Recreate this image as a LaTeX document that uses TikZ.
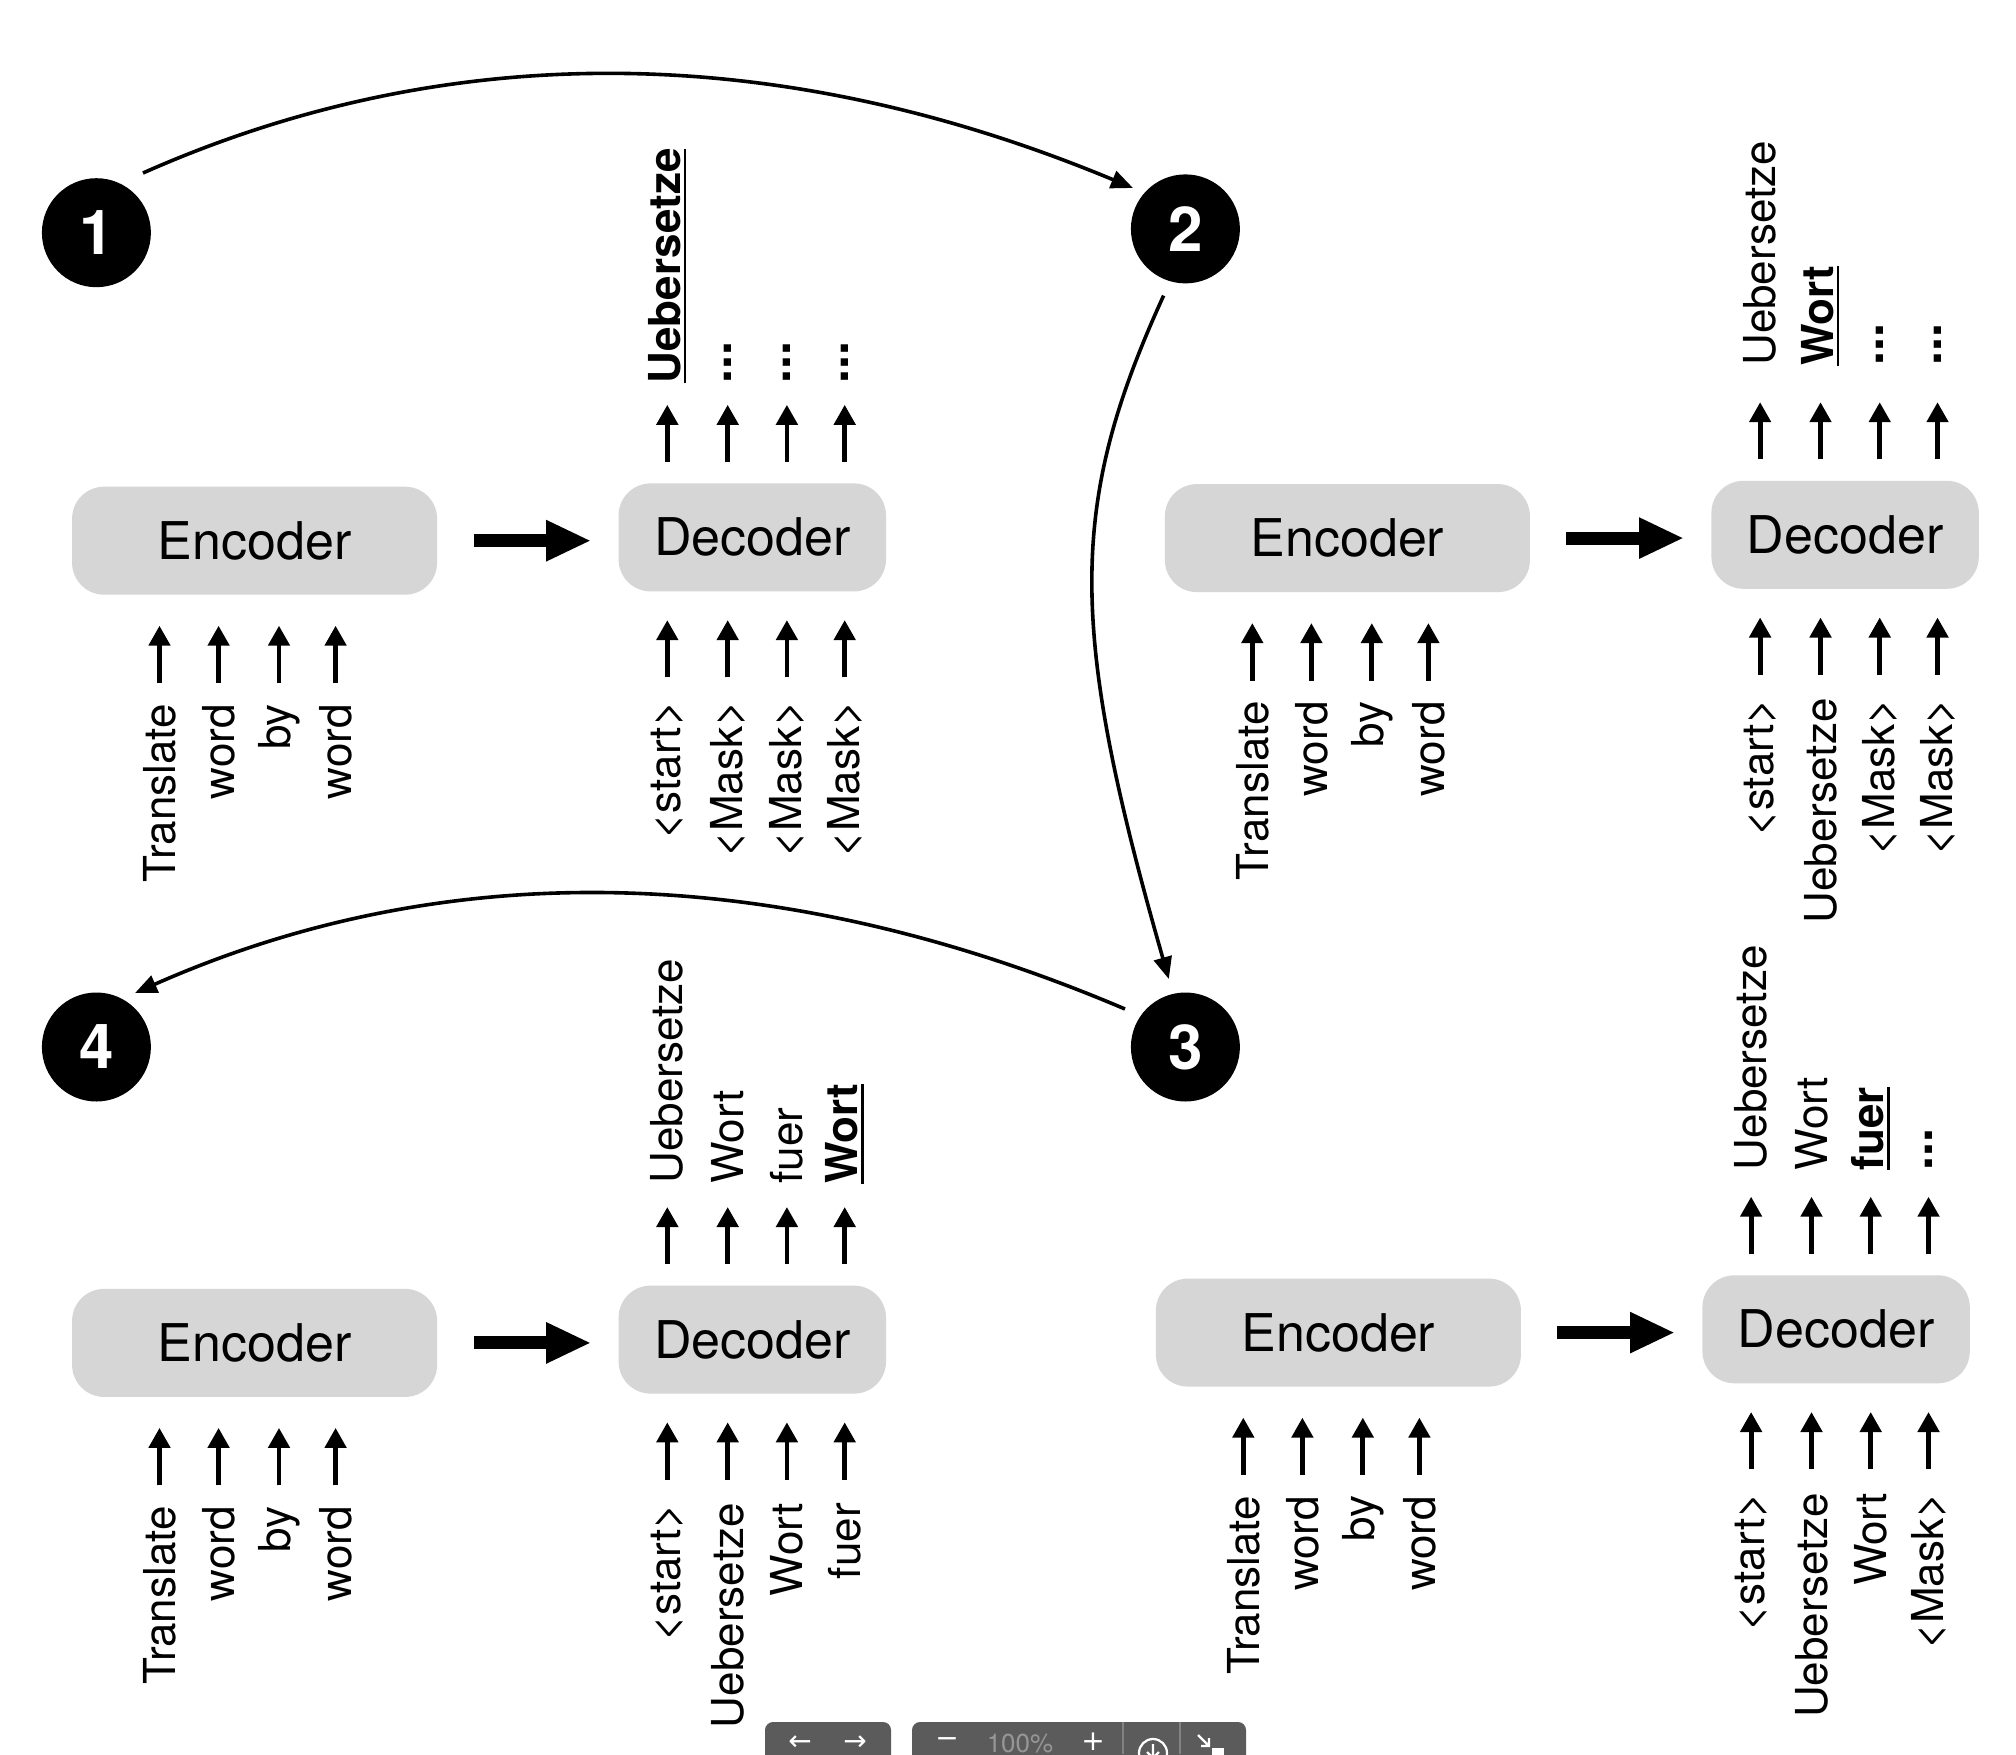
\documentclass[tikz,border=0pt]{standalone}
\usepackage{fontspec}
\setmainfont{TeX Gyre Heros}
\newfontfamily\symfont{DejaVu Sans}
\usetikzlibrary{arrows.meta,calc}

\definecolor{boxgray}{RGB}{214,214,214}
\definecolor{barGray}{RGB}{91,91,91}
\definecolor{barText}{RGB}{150,150,150}
\definecolor{barSep}{RGB}{130,130,130}

\newcommand{\threedots}{{\bfseries\fontsize{25}{28}\selectfont.{}.{}.}}
\newcommand{\uword}[1]{\setbox0\hbox{\textbf{#1}}\leavevmode\rlap{\rule[-2.8pt]{\wd0}{1.1pt}}\box0}

\tikzset{
  boxnode/.style={fill=boxgray, rounded corners=16pt, inner sep=0pt, font=\fontsize{26}{30}\selectfont},
  encbox/.style={boxnode, minimum width=182.5pt, minimum height=54pt},
  decbox/.style={boxnode, minimum width=133.7pt, minimum height=54pt},
  tok/.style={rotate=90, inner sep=0pt, font=\fontsize{22}{26}\selectfont},
  intok/.style={tok, anchor=east},
  outtok/.style={tok, anchor=west},
  smallarr/.style={line width=2.4pt, -{Triangle[length=10pt,width=10.5pt]}},
  bigarr/.style={line width=6.5pt, -{Triangle[length=22.5pt,width=19pt]}},
  stepnum/.style={circle, fill=black, minimum size=54.5pt, inner sep=0pt, text=white, font=\fontsize{31}{34}\selectfont\bfseries},
  arcarr/.style={line width=1.8pt, -{Triangle[length=11pt,width=9pt]}},
  bartxt/.style={inner sep=0pt, text=white, font=\symfont\fontsize{14}{16}\selectfont},
}

% #1 name, #2 x, #3 y, #4 output label offset, #5 output labels, #6 decoder input labels
\newcommand{\encdecpanel}[6]{%
\begin{scope}[shift={(#2,#3)}]
  \node[encbox] (#1Enc) at (0,0) {Encoder};
  \node[decbox] (#1Dec) at (497.7,-3.3) {Decoder};
  \draw[bigarr, shorten <=18pt, shorten >=13.5pt] (#1Enc.east) -- (#1Enc.east -| #1Dec.west);
  \foreach \t [count=\i] in {Translate,word,by,word}{%
    \pgfmathsetmacro\xx{{-95.1,-36,24.4,81}[\i-1]}%
    \node[intok] (#1Ein\i) at (\xx,163) {\t};
    \coordinate (#1Eia\i) at (\xx,142.5);
    \coordinate (#1Eib\i) at (\xx,85);
    \draw[smallarr] (#1Eia\i) -- (#1Eib\i);
  }
  \foreach \t [count=\i] in {#6}{%
    \pgfmathsetmacro\xx{{412.7,473.1,532.3,590.1}[\i-1]}%
    \node[intok] (#1Din\i) at (\xx,160) {\t};
    \coordinate (#1Dia\i) at (\xx,136.6);
    \coordinate (#1Dib\i) at (\xx,79.4);
    \draw[smallarr] (#1Dia\i) -- (#1Dib\i);
  }
  \foreach \t [count=\i] in {#5}{%
    \pgfmathsetmacro\xx{{412.7,473.1,532.3,590.1}[\i-1]}%
    \node[outtok] (#1Out\i) at (\xx,#4) {\t};
    \coordinate (#1Doa\i) at (\xx,-78.6);
    \coordinate (#1Dob\i) at (\xx,-135.9);
    \draw[smallarr] (#1Doa\i) -- (#1Dob\i);
  }
\end{scope}}

\begin{document}
\begin{tikzpicture}[x=0.5pt,y=-0.5pt]
\useasboundingbox (0,0) rectangle (2016,1754);
\fill[white] (0,0) rectangle (2016,1754);

% step circles
\node[stepnum] (c1) at (96.4,232.7) {1};
\node[stepnum] (c2) at (1185.4,228.9) {2};
\node[stepnum] (c3) at (1185.4,1047) {3};
\node[stepnum] (c4) at (96.4,1047) {4};

% arcs between steps
\draw[arcarr] ($(c1)+(46.6,-59.7)$) .. controls (445,39) and (775,39) .. ($(c2)+(-52.4,-40.9)$);
\draw[arcarr] ($(c2)+(-21.8,66.7)$) .. controls (1068,505) and (1068,627) .. ($(c3)+(-16.6,-68)$);
\draw[arcarr] ($(c3)+(-60.4,-38)$) .. controls (770,858) and (440,858) .. ($(c4)+(38.6,-54)$);

% panels
\encdecpanel{tl}{254.6}{540.7}{-157}
  {\uword{Uebersetze},\threedots,\threedots,\threedots}
  {<start>,<Mask>,<Mask>,<Mask>}
\encdecpanel{tr}{1347.4}{538.1}{-172}
  {Uebersetze,\uword{Wort},\threedots,\threedots}
  {<start>,Uebersetze,<Mask>,<Mask>}
\encdecpanel{bl}{254.6}{1342.9}{-159}
  {Uebersetze,Wort,fuer,\uword{Wort}}
  {<start>,Uebersetze,Wort,fuer}
\encdecpanel{br}{1338.4}{1332.6}{-162}
  {Uebersetze,Wort,\uword{fuer},\threedots}
  {<start>,Uebersetze,Wort,<Mask>}

% viewer toolbar at the bottom edge
\begin{scope}
  \clip (0,0) rectangle (2016,1754);
  \fill[barGray, rounded corners=4pt] (765,1722) rectangle (891,1790);
  \fill[barGray, rounded corners=4pt] (912,1722) rectangle (1246,1790);
  \draw[barSep, line width=0.8pt] (1123,1722) -- (1123,1754) (1180,1722) -- (1180,1754);
  \node[bartxt] (tbLeft) at (800,1743) {←};
  \node[bartxt] (tbRight) at (855,1743) {→};
  \node[bartxt] (tbMinus) at (947,1743) {−};
  \node[inner sep=0pt, anchor=base, text=barText, font=\fontsize{13}{15}\selectfont] (tbPct) at (1020,1752) {100\%};
  \node[bartxt] (tbPlus) at (1093,1742) {+};
  \draw[white, line width=1.1pt] (1153,1753) circle[radius=14];
  \draw[white, line width=1.1pt] (1153,1744) -- (1153,1758) (1147,1752) -- (1153,1758) -- (1159,1752);
  \draw[white, line width=1.2pt] (1198,1735) -- (1209,1746) (1201,1746) -- (1209,1746) -- (1209,1738);
  \fill[white] (1212,1748) rectangle (1224,1756);
\end{scope}
\end{tikzpicture}
\end{document}
